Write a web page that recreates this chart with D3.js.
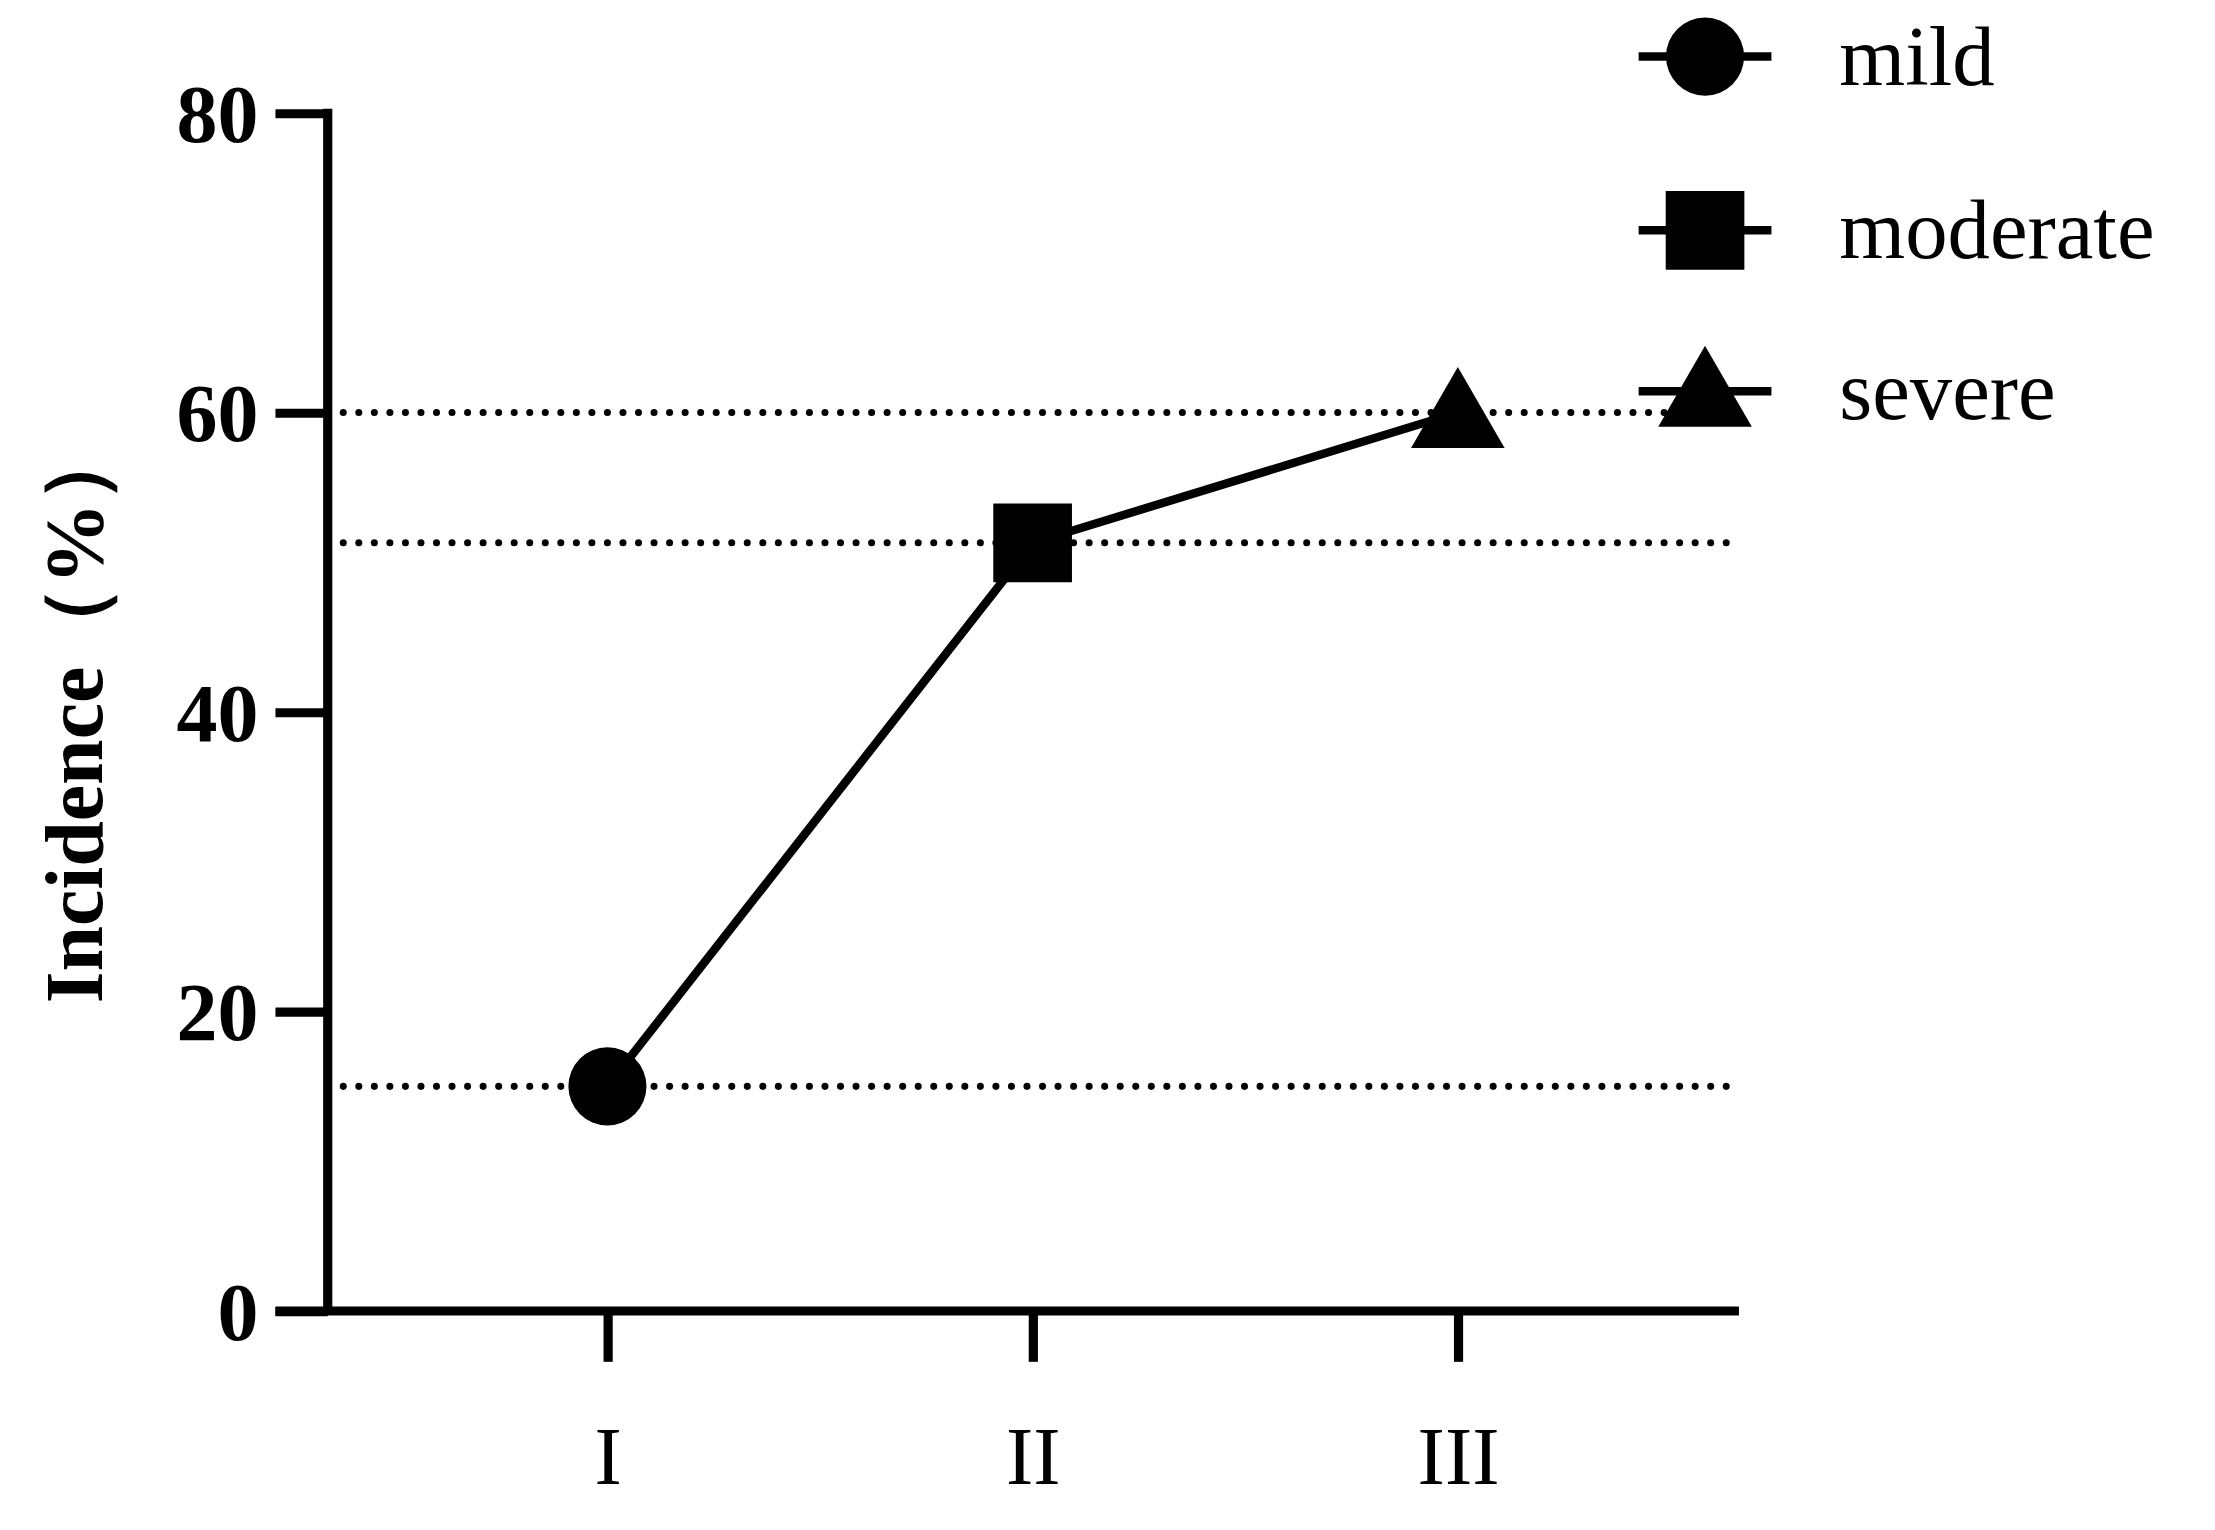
<!DOCTYPE html>
<html><head><meta charset="utf-8">
<script src="https://cdn.jsdelivr.net/npm/d3@7"></script>
<style>body{margin:0;background:#fff}</style>
</head><body>
<svg id="chart" width="2215" height="1530" viewBox="0 0 1568 1083"></svg>
<script>
// data
var categories = ["I", "II", "III"];
var seriesNames = ["mild", "moderate", "severe"];
var values = [15, 51.3, 60];
var yTicks = [0, 20, 40, 60, 80];

var svg = d3.select("#chart"),
    font = "'Liberation Serif', 'Times New Roman', serif";

var x = d3.scalePoint().domain(categories).range([430, 1032]);
var y = d3.scaleLinear().domain([0, 80]).range([928, 80]);

// dotted reference lines
svg.selectAll(".ref").data(values).enter().append("line")
    .attr("x1", 232).attr("x2", 1226)
    .attr("y1", function (d) { return y(d); }).attr("y2", function (d) { return y(d); })
    .attr("stroke", "#000").attr("stroke-width", 5)
    .attr("stroke-dasharray", "0 11").attr("stroke-linecap", "round");

// y axis
var yAxis = svg.append("g").attr("transform", "translate(232,0)")
    .call(d3.axisLeft(y).tickValues(yTicks).tickSize(37).tickPadding(12));
// x axis
var xAxis = svg.append("g").attr("transform", "translate(0,928)")
    .call(d3.axisBottom(x).tickSize(36).tickPadding(46));
xAxis.select(".domain").attr("d", "M195,0H1231");

svg.selectAll(".domain, .tick line").attr("stroke", "#000").attr("stroke-width", 6.5);
yAxis.select(".domain").attr("d", "M0,77V928");
yAxis.selectAll(".tick text").attr("font-family", font).attr("font-weight", "bold")
    .attr("font-size", 58).attr("fill", "#000").attr("dy", "0.34em");
xAxis.selectAll(".tick text").attr("font-family", font)
    .attr("font-size", 58).attr("fill", "#000").attr("dy", "0.7em");

// y label
svg.append("text")
    .attr("transform", "translate(72,504) rotate(-90)")
    .attr("text-anchor", "middle")
    .attr("font-family", font).attr("font-weight", "bold").attr("font-size", 58)
    .text("Incidence（%）");

// data line
svg.append("path")
    .datum(values)
    .attr("d", d3.line().x(function (d, i) { return x(categories[i]); }).y(function (d) { return y(d); }))
    .attr("fill", "none").attr("stroke", "#000").attr("stroke-width", 6);

var shapes = [d3.symbolCircle, d3.symbolSquare, d3.symbolTriangle];
var sizes = [2400, 3100, 1900];
var offs = [0, 0, 6];

svg.selectAll(".pt").data(values).enter().append("path")
    .attr("transform", function (d, i) { return "translate(" + x(categories[i]) + "," + (y(d) + offs[i]) + ")"; })
    .attr("d", function (d, i) { return d3.symbol().type(shapes[i]).size(sizes[i])(); })
    .attr("fill", "#000");

// legend
var legend = svg.selectAll(".leg").data(seriesNames).enter().append("g")
    .attr("transform", function (d, i) { return "translate(1207," + [40, 163, 277][i] + ")"; });
legend.append("line").attr("x1", -47).attr("x2", 47)
    .attr("stroke", "#000").attr("stroke-width", 6);
legend.append("path")
    .attr("transform", function (d, i) { return "translate(0," + offs[i] + ")"; })
    .attr("d", function (d, i) { return d3.symbol().type(shapes[i]).size(sizes[i])(); })
    .attr("fill", "#000");
legend.append("text").attr("x", 95).attr("dy", "0.33em")
    .attr("font-family", font).attr("font-size", 60)
    .text(function (d) { return d; });
</script>
</body></html>
